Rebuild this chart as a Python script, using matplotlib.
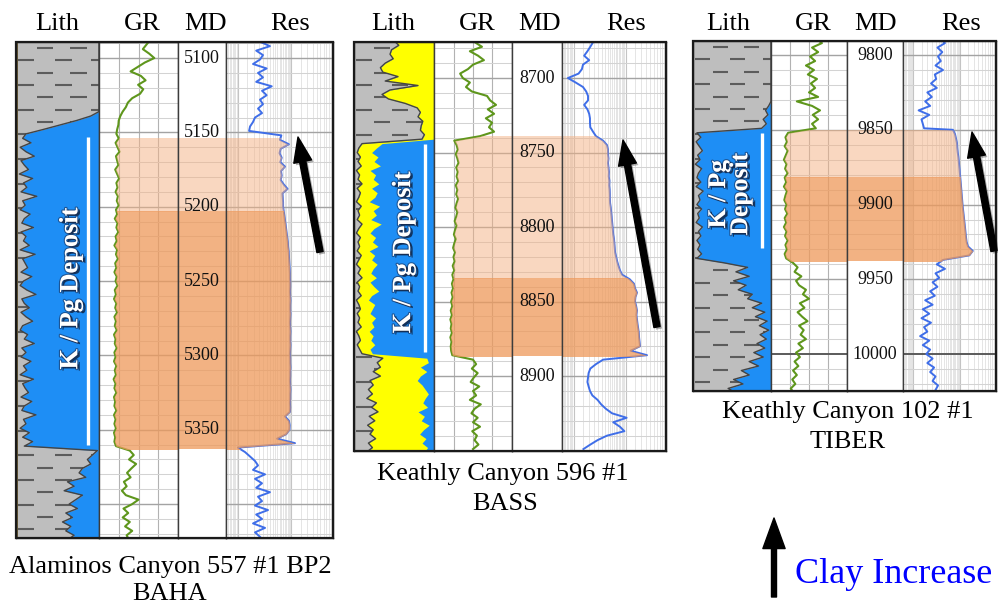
import numpy as np
import matplotlib
matplotlib.use("Agg")
import matplotlib.pyplot as plt
from matplotlib.patches import Rectangle, FancyArrowPatch
from matplotlib.collections import LineCollection
import matplotlib.patheffects as pe

plt.rcParams['font.family'] = ['Liberation Serif', 'DejaVu Serif']

# ------------------------------------------------------------------
# Well data. Curves are stored as segments: (top depth ft, step ft, values)
# GR in API units (track 0-200), Res in ohm-m (log track 0.6-60),
# lithology boundaries as fraction of the lith track width.
# ------------------------------------------------------------------

# Alaminos Canyon 557 #1 BP2 - BAHA
baha_view = (5089.2, 5422.8)
baha_md_labels = [5100, 5150, 5200, 5250, 5300, 5350]
baha_zones = [(5153.8, 5203.0), (5203.0, 5363.0)]
baha_bar = (5153, 5360)
baha_label_depth = 5255
baha_gr = [
    (5088, 3, [129, 120, 111, 127, 140, 116, 98, 80, 106, 118, 99, 112, 104, 84, 73,
               68, 60, 54, 50, 49, 46]),
    (5151, 3, [44, 50, 42, 47, 52, 43, 46, 49, 41, 46,
               51, 44, 47, 42, 48, 45, 50, 43, 46, 40,
               47, 44, 49, 42, 45, 39, 46, 43, 48, 41,
               44, 39, 45, 42, 47, 40, 43, 38, 44, 41,
               46, 39, 43, 40, 45, 38, 42, 40, 45, 39,
               42, 38, 44, 40, 43, 37, 42, 39, 44, 38,
               41, 39, 44, 38, 42, 39, 43, 38, 41, 39,
               43]),
    (5364, 3, [78, 88, 76, 94, 82, 71, 80, 63, 70, 58, 68, 100, 84, 62, 74,
               60, 78, 66, 84, 70, 76]),
]
baha_res = [
    (5089, 3, [2.59, 3.98, 2.2, 2.95, 2.59, 1.92, 3.45, 2.38, 2.95, 2.2, 4.3, 2.83,
               3.45, 2.59, 2.95, 2.38, 2.83, 2.09, 1.92, 1.69, 1.62]),
    (5152, 3, [6.5, 6.1, 9.0, 6.3, 6.0, 6.6, 6.2, 7.6, 6.4, 6.6,
               6.3, 7.2, 8.5, 6.8, 6.9, 7.0, 7.0, 7.2, 7.4, 7.6,
               7.8, 8.0, 8.2, 8.4, 8.6, 8.7, 8.9, 9.0, 9.1, 9.2,
               9.3, 9.4, 9.4, 9.5, 9.5, 9.4, 9.5, 9.6, 9.5, 9.5,
               9.6, 9.5, 9.4, 9.5, 9.6, 9.5, 9.5, 9.6, 9.5, 9.4,
               9.5, 9.5, 9.6, 9.5, 9.5, 9.4, 9.5, 9.6, 9.5, 9.5,
               9.4, 9.5, 9.4, 7.6, 9.0, 9.3, 9.2, 8.0, 5.4, 11.7]),
    (5362, 3, [1.0, 1.36, 1.69, 2.09, 2.38, 1.92, 3.22, 2.09, 2.83, 2.2, 3.98, 2.38,
               2.83, 2.09, 3.66, 2.2, 2.83, 1.92, 3.22, 2.09, 2.59]),
]
baha_shale = [
    (5088, 3, [1.0, 1.0, 1.0, 1.0, 1.0, 1.0, 1.0, 1.0, 1.0, 1.0, 1.0, 1.0, 1.0, 1.0,
               1.0, 1.0, 1.0, 0.90, 0.73, 0.53, 0.33, 0.12]),
    (5154, 3, [.08, .18, .05, .12, .22, .06, .10, .15, .04, .20,
               .09, .13, .06, .25, .08, .11, .05, .17, .10, .07,
               .21, .06, .12, .09, .16, .05, .23, .08, .11, .14,
               .06, .19, .09, .05, .13, .24, .07, .10, .16, .06,
               .12, .20, .08, .05, .14, .10, .22, .07, .12, .06,
               .18, .09, .13, .05, .21, .08, .11, .15, .06, .19,
               .10, .07, .24, .09, .12, .05, .16, .08, .20, .10]),
    (5364, 3, [.98, .92, .86, .90, .80, .76, .84, .62, .70, .58, .80, .72, .64, .74,
               .60, .68, .56, .66, .60, .70, .62]),
]

# Keathly Canyon 596 #1 - BASS
bass_view = (8675.8, 8950.3)
bass_md_labels = [8700, 8750, 8800, 8850, 8900]
bass_zones = [(8739.0, 8834.0), (8834.0, 8886.6)]
bass_bar = (8744, 8884)
bass_label_depth = 8817
bass_gr = [
    (8676, 3, [105, 123, 92, 113, 128, 100, 87, 67, 74, 92, 82, 97, 136, 144, 159,
               138, 154, 133, 149, 141, 154, 118]),
    (8742, 3, [52, 58, 61, 56, 60, 63, 57, 61, 58, 62,
               56, 60, 57, 62, 58, 55, 60, 57, 53, 58,
               54, 51, 56, 52, 49, 54, 50, 53, 48, 52,
               47, 50, 46, 49, 45, 48, 44, 47, 43, 46,
               42, 45, 43, 46, 42, 45, 43, 44, 47]),
    (8889, 3, [100, 108, 97, 112, 102, 94, 116, 100, 108, 92, 120, 104, 96, 112, 100,
               118, 98, 110, 104, 114, 100]),
]
bass_res = [
    (8676, 3, [2.37, 2.1, 1.85, 1.6, 2.0, 1.52, 1.45, 1.25, 0.78, 1.1, 1.52, 1.75,
               1.9, 1.9, 1.6, 1.85, 2.0, 2.07, 2.07, 2.1, 2.37, 2.7]),
    (8742, 3, [3.69, 4.4, 4.6, 4.6, 4.7, 4.6, 4.7, 4.8, 4.75, 4.9,
               4.85, 4.95, 5.0, 5.0, 5.05, 5.2, 5.3, 5.4, 5.5, 5.6,
               5.7, 5.8, 6.0, 6.1, 6.2, 6.3, 6.6, 6.9, 7.3, 7.8,
               8.6, 12.0, 14.5, 15.2, 16.6, 15.5, 15.2, 16.0, 16.6, 16.2,
               16.6, 17.0, 17.5, 18.0, 18.2, 18.6, 19.0, 12.5, 25.9]),
    (8889, 3, [3.7, 2.7, 2.1, 1.95, 1.9, 1.85, 1.95, 2.07, 2.3, 2.9, 3.4, 4.2, 5.5,
               10.5, 5.8, 7.8, 9.5, 4.4, 2.9, 2.1, 1.55]),
]
bass_shale = [
    (8675, 3, [.50, .56, .47, .45, .49, .39, .33, .36, .55, .39, .80, .45, .35, .43,
               .64, .79, .83, .80, .86, .84, .83, .88, .85]),
    (8744, 3, [.10, .06, .04, .08, .05, .09, .03, .07, .05, .10,
               .04, .08, .06, .03, .09, .05, .07, .04, .10, .06,
               .03, .08, .05, .07, .04, .09, .06, .03, .08, .05,
               .10, .04, .07, .05, .09, .03, .06, .08, .04, .07,
               .05, .09, .03, .06, .08, .04, .07, .10]),
    (8888, 3, [.36, .29, .33, .24, .33, .20, .24, .18, .23, .16, .28, .22, .30, .19,
               .26, .17, .24, .20, .27, .18, .23, .16]),
]
bass_sand = [
    (8675, 3, [1.0, 1.0, 1.0, 1.0, 1.0, 1.0, 1.0, 1.0, 1.0, 1.0, 1.0, 1.0, 1.0, 1.0,
               1.0, 1.0, 1.0, 1.0, 1.0, 1.0, 1.0, 1.0, 1.0]),
    (8744, 3, [.35, .28, .22, .30, .25, .33, .20, .27, .24, .31,
               .22, .29, .26, .19, .32, .24, .28, .21, .34, .25,
               .20, .27, .23, .30, .19, .26, .22, .29, .24, .21,
               .28, .20, .25, .31, .22, .18, .26, .23, .20, .27,
               .22, .25, .19, .24, .21, .26, .20, .23]),
    (8888, 3, [.91, .93, .83, .91, .83, .79, .85, .89, .93, .89, .86, .92, .80, .88,
               .84, .94, .87, .82, .90, .85, .92, .88]),
]

# Keathly Canyon 102 #1 - TIBER
tiber_view = (9790.6, 10024.7)
tiber_md_labels = [9800, 9850, 9900, 9950, 10000]
tiber_zones = [(9850.0, 9881.5), (9881.5, 9938.0)]
tiber_bar = (9852, 9929)
tiber_label_depth = 9893
tiber_gr = [
    (9789, 3, [118, 134, 108, 124, 103, 116, 92, 113, 97, 121, 105, 116, 100, 124,
               68, 108, 129, 110, 124, 108, 118]),
    (9852, 3, [45, 38, 42, 36, 44, 39, 34, 41, 37, 44,
               36, 40, 34, 42, 38, 35, 41, 37, 43, 36,
               40, 34, 41, 37, 44, 38, 42, 36, 40]),
    (9939, 3, [58, 70, 62, 80, 66, 74, 92, 84, 100, 76,
               88, 70, 82, 96, 74, 86, 78, 92, 72, 84,
               66, 76, 62, 72, 58, 68, 56, 64, 52, 60]),
]
tiber_res = [
    (9789, 3, [3.8, 4.8, 3.3, 4.2, 3.4, 3.9, 3.0, 4.35, 2.9, 3.1, 2.4, 3.2, 2.0, 2.5,
               1.8, 2.3, 1.3, 2.2, 1.5, 1.6, 1.7]),
    (9850, 3, [7.1, 7.9, 8.3, 8.7, 8.8, 9.0, 9.3, 9.5, 9.7, 9.9,
               10.1, 10.3, 10.5, 10.7, 10.9, 11.1, 11.3, 11.5, 11.8, 12.1,
               12.4, 12.7, 13.0, 13.3, 13.6, 14.0, 15.0, 19.0, 16.0]),
    (9937, 3, [4.35, 3.2, 4.8, 3.0, 3.6, 2.6, 3.3, 2.3, 2.9, 1.8,
               2.6, 1.6, 2.2, 1.5, 2.4, 1.7, 2.0, 1.4, 2.2, 1.6,
               2.3, 1.9, 2.6, 2.0, 2.8, 2.3, 3.0, 2.6, 3.4, 3.0]),
]
tiber_shale = [
    (9789, 3, [1.0, 1.0, 1.0, 1.0, 1.0, 1.0, 1.0, 1.0, 1.0, 1.0, 1.0, 1.0, 1.0, 1.0,
               1.0, .97, .93, .96, .90, .94, .88]),
    (9852, 3, [.05, .10, .04, .08, .12, .06, .09, .03, .11, .07,
               .05, .10, .04, .13, .07, .09, .05, .11, .06, .08,
               .04, .12, .07, .10, .05, .09, .06, .11, .05]),
    (9939, 3, [.40, .70, .55, .72, .52, .68, .58, .76, .70, .88,
               .76, .92, .80, .95, .85, .97, .86, .94, .82, .92,
               .78, .90, .72, .84, .62, .72, .52, .64, .45, .55]),
]

track_names = ['Lith', 'GR', 'MD', 'Res']
deposit_text = 'K / Pg Deposit'

# ------------------------------------------------------------------
# Styling and layout (pixel geometry of the 998 x 605 canvas)
# ------------------------------------------------------------------
W, H = 998, 605
GRAY = '#BEBEBE'
SAND = '#FFFF00'
BLUE = '#1E8EF5'
GR_COLOR = '#5E961C'
RES_COLOR = '#3F6EE8'
ZONE_STYLE = [('#F4B183', 0.50), ('#EE9A5C', 0.76)]
DASH_A = [(0.25, 0.45), (0.65, 0.85)]
DASH_B = [(0.02, 0.22), (0.47, 0.67), (0.90, 1.00)]

fig = plt.figure(figsize=(W / 100, H / 100), dpi=100)


def px_box(x0, x1, y0, y1):
    return [x0 / W, 1 - y1 / H, (x1 - x0) / W, (y1 - y0) / H]


def fpos(x, y):
    return (x / W, 1 - y / H)


def expand(segs):
    d, v = [], []
    for start, step, vals in segs:
        d.extend(start + step * np.arange(len(vals)))
        v.extend(vals)
    return np.asarray(d, float), np.asarray(v, float)


def depth_grid(ax, view, only=None):
    for dd in np.arange(np.ceil(view[0] / 10) * 10, view[1], 10):
        if only is not None and not (only[0] <= dd <= only[1]):
            continue
        if dd % 500 == 0:
            c, lw = '#5a5a5a', 1.4
        elif dd % 50 == 0:
            c, lw = '#a3a3a3', 1.0
        else:
            c, lw = '#d3d3d3', 0.75
        ax.axhline(dd, color=c, lw=lw, zorder=1)


def clip_to_zone(artist, ax, x0, width, zone):
    artist.set_clip_path(Rectangle((x0, zone[0]), width, zone[1] - zone[0],
                                   transform=ax.transData))


def draw_well(w):
    e = w['edges']
    yt, yb = w['ytop'], w['ybot']
    view = w['view']
    lith = fig.add_axes(px_box(e[0], e[1], yt, yb))
    grax = fig.add_axes(px_box(e[1], e[2], yt, yb), sharey=lith)
    mdax = fig.add_axes(px_box(e[2], e[3], yt, yb), sharey=lith)
    resax = fig.add_axes(px_box(e[3], e[4], yt, yb), sharey=lith)
    lith.set_ylim(view[1], view[0])
    for ax in (lith, grax, mdax, resax):
        ax.tick_params(which='both', left=False, bottom=False,
                       labelleft=False, labelbottom=False)
        for s in ax.spines.values():
            s.set_color('#3c3c3c')
            s.set_linewidth(1.0)
            s.set_zorder(8)

    # --- lithology track
    d, b1 = expand(w['shale'])
    lith.set_xlim(0, 1)
    lith.set_facecolor(BLUE)
    gray = lith.fill_betweenx(d, 0, b1, color=GRAY, lw=0, zorder=1)
    if w['sand'] is not None:
        _, b2 = expand(w['sand'])
        lith.fill_betweenx(d, b1, b2, color=SAND, lw=0, zorder=1)
    segs = []
    for k, r in enumerate(np.arange(view[0] + 4, view[1], 8.3)):
        for x0, x1 in (DASH_A if k % 2 == 0 else DASH_B):
            segs.append([(x0, r), (x1, r)])
    dashes = LineCollection(segs, colors='#5c5c5c', linewidths=1.5, zorder=2)
    lith.add_collection(dashes)
    dashes.set_clip_path(gray.get_paths()[0], lith.transData)
    lith.plot(b1, d, color='#444444', lw=1.0, zorder=3)
    if w.get('edge_line'):
        lith.axvline(0.015, color='#6b5a2e', lw=1.4, zorder=4)
    lith.vlines(w['bar_x'], w['bar'][0], w['bar'][1], color='white', lw=2.4, zorder=5)
    lith.text(w['label_x'], w['label_depth'], w['label'], rotation=90,
              ha='center', va='center', color='white', fontsize=w['label_size'],
              fontweight='bold', linespacing=0.95, zorder=6,
              path_effects=[pe.SimplePatchShadow(offset=(1.8, -1.2),
                                                 shadow_rgbFace='#0c1730', alpha=0.75),
                            pe.Stroke(linewidth=1.6, foreground='#1b2748', alpha=0.55),
                            pe.Normal()])

    # --- gamma ray track
    grax.set_xlim(0, 200)
    for v in (50, 100, 150):
        grax.axvline(v, color='#b2b2b2', lw=0.8, zorder=1)
    depth_grid(grax, view)
    d, v = expand(w['gr'])
    grax.plot(v, d, color=GR_COLOR, lw=1.5, zorder=3)
    for zone, (col, a) in zip(w['zones'], ZONE_STYLE):
        poly = grax.fill_betweenx(d, v, 200, color=col, alpha=a, lw=0, zorder=4)
        clip_to_zone(poly, grax, 0, 200, zone)

    # --- measured depth track
    mdax.set_xlim(0, 1)
    depth_grid(mdax, view, only=(w['zones'][0][0], w['zones'][-1][1]))
    for zone, (col, a) in zip(w['zones'], ZONE_STYLE):
        mdax.axhspan(zone[0], zone[1], color=col, alpha=a, lw=0, zorder=4)
    for m in w['md_labels']:
        mdax.text(0.5, m, str(m), ha='center', va='center', fontsize=13,
                  color='#111111', zorder=6)

    # --- resistivity track (logarithmic)
    resax.set_xscale('log')
    resax.set_xlim(0.6, 60)
    for dec in (0.1, 1.0, 10.0):
        for m in np.arange(1.0, 10.0, 0.5):
            val = dec * m
            if 0.6 < val < 60:
                resax.axvline(val, color='#c4c4c4' if m == 1.0 else '#dedede',
                              lw=0.8 if m == 1.0 else 0.55, zorder=1)
    depth_grid(resax, view)
    d, v = expand(w['res'])
    resax.plot(v, d, color=RES_COLOR, lw=1.4, zorder=3)
    for zone, (col, a) in zip(w['zones'], ZONE_STYLE):
        poly = resax.fill_betweenx(d, 0.6, v, color=col, alpha=a, lw=0, zorder=4)
        clip_to_zone(poly, resax, 0.6, 59.4, zone)

    # --- frame, headers, titles, trend arrow
    fig.add_artist(Rectangle(fpos(e[0], yb), (e[4] - e[0]) / W, (yb - yt) / H,
                             transform=fig.transFigure, fill=False,
                             ec='#1a1a1a', lw=1.6, zorder=10))
    for name, hx in zip(track_names, w['header_x']):
        fig.text(hx / W, 1 - 30 / H, name, ha='center', va='baseline', fontsize=19)
    for line, tx, ty in w['titles']:
        fig.text(tx / W, 1 - ty / H, line, ha='center', va='baseline', fontsize=19)
    tail, tip = w['arrow']
    fig.add_artist(FancyArrowPatch(
        fpos(*tail), fpos(*tip), transform=fig.transFigure,
        arrowstyle='simple,head_length=1.8,head_width=1.3,tail_width=0.45',
        mutation_scale=10, color='black', shrinkA=0, shrinkB=0, zorder=12,
        path_effects=[pe.SimplePatchShadow(offset=(1.5, -1.5), alpha=0.3), pe.Normal()]))


wells = [
    dict(edges=(16, 99, 178, 226, 333), ytop=42, ybot=538, view=baha_view,
         md_labels=baha_md_labels, zones=baha_zones, gr=baha_gr, res=baha_res,
         shale=baha_shale, sand=None, bar=baha_bar, bar_x=0.87, edge_line=True,
         label=deposit_text, label_x=0.66, label_depth=baha_label_depth, label_size=19,
         header_x=(57, 142, 205, 290),
         titles=[('Alaminos Canyon 557 #1 BP2', 170, 573), ('BAHA', 170, 600)],
         arrow=((320, 252), (298, 137))),
    dict(edges=(354, 434, 512, 562, 666), ytop=42, ybot=451, view=bass_view,
         md_labels=bass_md_labels, zones=bass_zones, gr=bass_gr, res=bass_res,
         shale=bass_shale, sand=bass_sand, bar=bass_bar, bar_x=0.89,
         label=deposit_text, label_x=0.62, label_depth=bass_label_depth, label_size=19,
         header_x=(393, 477, 539, 626),
         titles=[('Keathly Canyon 596 #1', 503, 480), ('BASS', 505, 510)],
         arrow=((657, 327), (623, 140))),
    dict(edges=(693, 771, 847, 903, 996), ytop=41, ybot=391, view=tiber_view,
         md_labels=tiber_md_labels, zones=tiber_zones, gr=tiber_gr, res=tiber_res,
         shale=tiber_shale, sand=None, bar=tiber_bar, bar_x=0.885,
         label='K / Pg\nDeposit', label_x=0.47, label_depth=tiber_label_depth,
         label_size=18.5, header_x=(728, 813, 875, 961),
         titles=[('Keathly Canyon 102 #1', 848, 418), ('TIBER', 848, 448)],
         arrow=((994, 251), (972, 132))),
]

for w in wells:
    draw_well(w)

# legend arrow
fig.add_artist(FancyArrowPatch(
    fpos(774, 597), fpos(774, 518), transform=fig.transFigure,
    arrowstyle='simple,head_length=2.2,head_width=1.6,tail_width=0.36',
    mutation_scale=10, color='black', shrinkA=0, shrinkB=0, zorder=12))
fig.text(795 / W, 1 - 583 / H, 'Clay Increase', color='#0000FF', fontsize=26,
         ha='left', va='baseline')

fig.savefig('out.png', dpi=100)
